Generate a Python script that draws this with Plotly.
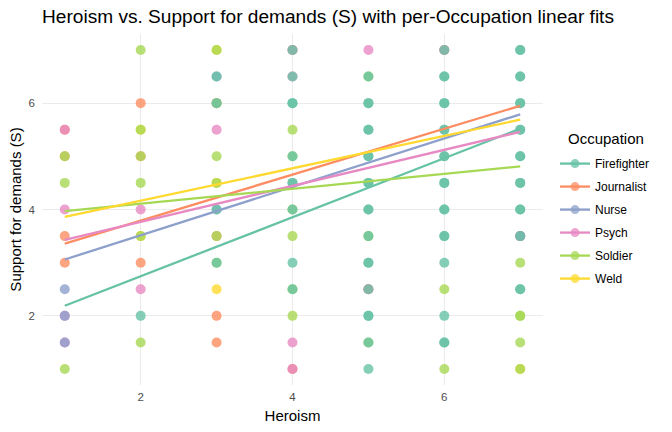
import plotly.graph_objects as go

# ---------------- data ----------------
occupations = ["Firefighter", "Journalist", "Nurse", "Psych", "Soldier", "Weld"]
colors = ["#66c2a5", "#fc8d62", "#8da0cb", "#e78ac3", "#a6d854", "#ffd92f"]

heroism_firefighter = [2, 3, 3, 3, 3,
                       4, 4, 4, 4, 4, 4, 4, 4, 4, 4,
                       5, 5, 5, 5, 5, 5, 5, 5, 5, 5, 5, 5, 5, 5, 5, 5, 5, 5, 5,
                       6, 6, 6, 6, 6, 6, 6, 6, 6, 6, 6, 6, 6, 6, 6, 6, 6, 6, 6,
                       7, 7, 7, 7, 7, 7, 7, 7, 7, 7, 7, 7, 7, 7, 7, 7, 7]
support_firefighter = [2, 6.5, 6, 4, 3,
                       7, 6.5, 6, 6, 5, 4.5, 4.5, 4, 3, 2.5,
                       6.5, 6, 6, 5.5, 5.5, 5, 5, 4.5, 4.5, 4, 4, 3.5, 3, 3, 2.5, 2, 2, 1.5, 1,
                       7, 6.5, 6.5, 6, 6, 5.5, 5.5, 5, 5, 4.5, 4.5, 4, 4, 3.5, 3.5, 3, 2, 1.5, 1.5,
                       7, 7, 6.5, 6.5, 6, 6, 5.5, 5.5, 5, 5, 4.5, 4.5, 4, 4, 3.5, 2.5, 2.5]

heroism_journalist = [1, 1, 1, 1, 2, 2, 2, 3, 3, 3, 3, 4, 4, 5, 6, 7]
support_journalist = [5.5, 5, 3.5, 3, 6, 5, 3, 6, 3.5, 2, 1.5, 7, 1, 2.5, 7, 3.5]

heroism_nurse = [1, 1, 1, 3, 3, 7]
support_nurse = [2.5, 2, 1.5, 6.5, 4, 3.5]

heroism_psych = [1, 1, 1, 1, 2, 2, 3, 4, 4, 4, 4, 5, 5, 6, 7]
support_psych = [5.5, 4, 2, 1.5, 4, 2.5, 5.5, 7, 6.5, 1.5, 1, 7, 2.5, 7, 3.5]

heroism_soldier = [1, 1, 1, 2, 2, 2, 2, 2, 2, 3, 3, 3, 3, 3, 3,
                   4, 4, 4, 4, 4, 4, 5, 5, 5, 6, 6, 7, 7, 7, 7, 7]
support_soldier = [5, 4.5, 1, 7, 5.5, 5, 4.5, 3.5, 1.5, 7, 6, 5, 4.5, 3.5, 3,
                   5.5, 5, 4, 3.5, 2.5, 2, 6.5, 3.5, 1.5, 2.5, 1, 3, 2, 2, 1.5, 1]

heroism_weld = [2, 2, 3, 3, 3, 7]
support_weld = [5.5, 3.5, 7, 4.5, 2.5, 1]

# linear fits (value at Heroism = 1 and Heroism = 7)
fit_x = [1, 7]
fit_start = [2.19, 3.36, 3.06, 3.43, 3.97, 3.86]
fit_end = [5.52, 5.95, 5.79, 5.46, 4.81, 5.69]

x_ticks = [2, 4, 6]
y_ticks = [2, 4, 6]

heroism = [heroism_firefighter, heroism_journalist, heroism_nurse,
           heroism_psych, heroism_soldier, heroism_weld]
support = [support_firefighter, support_journalist, support_nurse,
           support_psych, support_soldier, support_weld]

# ---------------- figure ----------------
FONT = "Liberation Sans, Arial, sans-serif"
fig = go.Figure()

# point layering (bottom -> top), to mimic the blended overlaps
draw_order = ["Weld", "Journalist", "Soldier", "Psych", "Nurse", "Firefighter"]
for occ in draw_order:
    i = occupations.index(occ)
    fig.add_trace(go.Scatter(
        x=heroism[i], y=support[i], mode="markers", name=occ, legendgroup=occ,
        showlegend=False,
        marker=dict(color=colors[i], size=10, opacity=0.8, line=dict(width=0)),
    ))

for occ, col, s, e in zip(occupations, colors, fit_start, fit_end):
    fig.add_trace(go.Scatter(
        x=fit_x, y=[s, e], mode="lines", name=occ, legendgroup=occ,
        showlegend=False, line=dict(color=col, width=2.3),
    ))

for occ, col in zip(occupations, colors):
    fig.add_trace(go.Scatter(
        x=[None], y=[None], mode="lines+markers", name=occ, legendgroup=occ,
        showlegend=True,
        line=dict(color=col, width=2.3),
        marker=dict(color=col, size=9, opacity=0.75),
    ))

fig.update_layout(
    width=672, height=432,
    margin=dict(l=42, r=129, t=34, b=47, autoexpand=False),
    paper_bgcolor="white", plot_bgcolor="white",
    font=dict(family=FONT, color="black"),
    title=dict(
        text="Heroism vs. Support for demands (S) with per-Occupation linear fits",
        font=dict(size=19.1, color="black", family=FONT),
        xref="container", x=42 / 672, xanchor="left",
        yref="container", y=1 - 16 / 432, yanchor="middle",
    ),
    legend=dict(
        font=dict(size=12, color="black"),
        x=1.024, xanchor="left", y=0.467, yanchor="middle",
        traceorder="grouped", tracegroupgap=4,
        bgcolor="rgba(0,0,0,0)",
    ),
    showlegend=True,
    annotations=[dict(
        text="Occupation", xref="paper", yref="paper",
        x=(566 - 42) / 501, y=(385 - 138) / 351, xanchor="left", yanchor="middle",
        showarrow=False, font=dict(size=15, color="black", family=FONT),
    )],
)

fig.update_xaxes(
    range=[0.7, 7.3], tickvals=x_ticks, ticktext=[str(t) for t in x_ticks],
    showgrid=True, gridcolor="#ebebeb", gridwidth=1.1, zeroline=False,
    showline=False, ticks="", ticklabelstandoff=3, automargin=False,
    tickfont=dict(size=11.5, color="#4d4d4d"),
    title=dict(text="Heroism", font=dict(size=15, color="black"), standoff=8),
)
fig.update_yaxes(
    range=[0.7, 7.3], tickvals=y_ticks, ticktext=[str(t) for t in y_ticks],
    showgrid=True, gridcolor="#ebebeb", gridwidth=1.1, zeroline=False,
    showline=False, ticks="", ticklabelstandoff=6, automargin=False,
    tickfont=dict(size=11.5, color="#4d4d4d"),
    title=dict(text="Support for demands (S)", font=dict(size=15, color="black"), standoff=3),
)

fig.write_html("out.html", config={"displayModeBar": False},
               post_script="document.body.style.margin='0';")
